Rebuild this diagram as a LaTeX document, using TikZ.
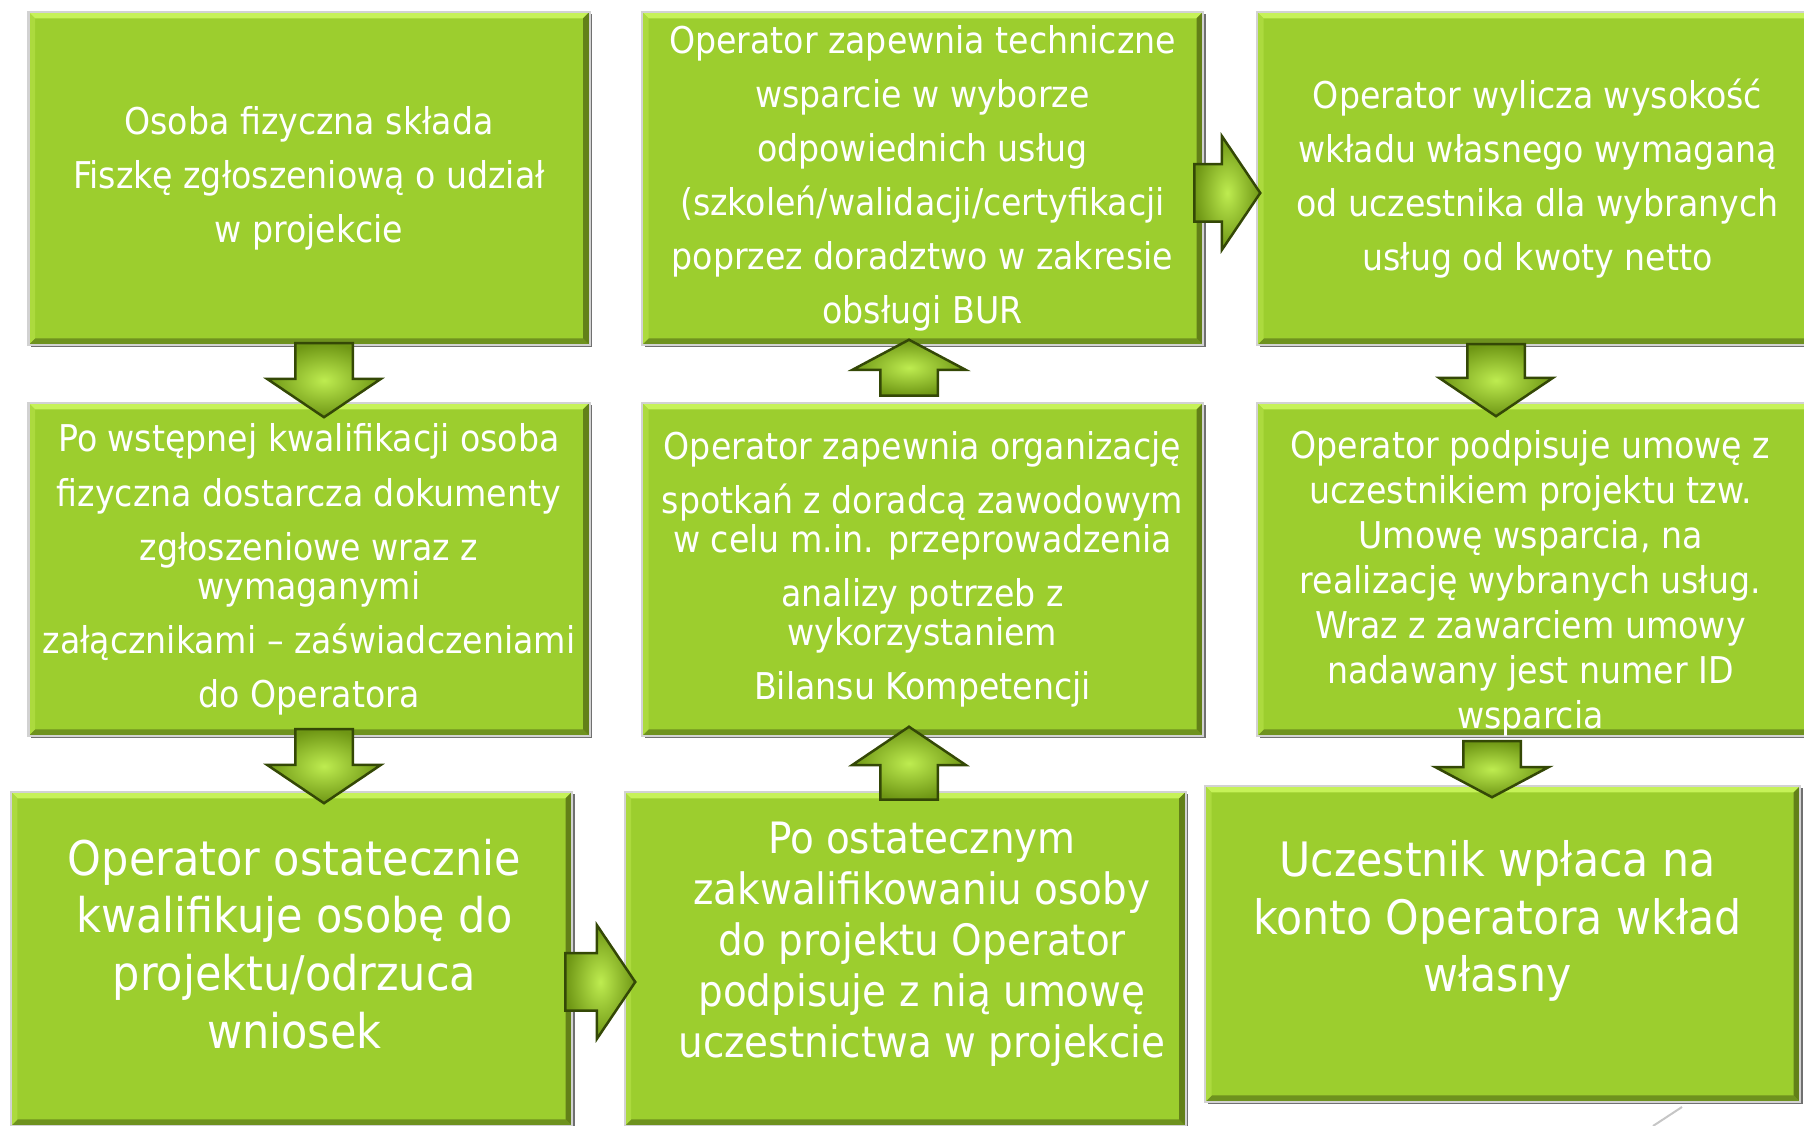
\documentclass[tikz,border=0pt]{standalone}
\usepackage{fontspec}
\setmainfont{DejaVu Sans Condensed}
\usepackage{tikz}
\usetikzlibrary{shapes.arrows,shadows}
\definecolor{boxgreen}{RGB}{156,206,46}
\definecolor{bevtop}{RGB}{198,242,88}
\definecolor{bevleft}{RGB}{172,218,62}
\definecolor{bevbot}{RGB}{110,146,30}
\definecolor{bevright}{RGB}{98,128,24}
\definecolor{arrowline}{RGB}{52,72,6}
\definecolor{arrowlight}{RGB}{190,236,80}
\definecolor{arrowdark}{RGB}{110,150,20}
\newcommand{\bev}{0.065cm}
\newcommand{\boxw}{5.61cm}
\newcommand{\boxh}{3.33cm}
\newcommand{\bevside}[5]{\fill[#1] (path picture bounding box.#2) -- (path picture bounding box.#3) -- ([shift={#5}]path picture bounding box.#3) -- ([shift={#4}]path picture bounding box.#2) -- cycle;}

\begin{document}
\begin{tikzpicture}
	
	\tikzset{
		stepbox/.style={rectangle, fill=boxgreen, draw=gray!35, line width=0.02cm, text=white, align=center,
			minimum width=\boxw, minimum height=\boxh, inner sep=0pt,
			drop shadow={shadow xshift=0.025cm, shadow yshift=-0.025cm, fill=black!70, opacity=0.8},
			path picture={
				\bevside{bevtop}{north west}{north east}{(\bev,-\bev)}{(-\bev,-\bev)}
				\bevside{bevbot}{south west}{south east}{(\bev,\bev)}{(-\bev,\bev)}
				\bevside{bevleft}{north west}{south west}{(\bev,-\bev)}{(\bev,\bev)}
				\bevside{bevright}{north east}{south east}{(-\bev,-\bev)}{(-\bev,\bev)}
			}},
		small/.style={font=\fontsize{10.5}{#1}\selectfont},
		boxtext/.style={text=white, align=center, inner sep=0pt},
		flowarrow/.style={single arrow, draw=arrowline, line width=0.025cm, inner xsep=0pt, inner ysep=0.275cm,
			minimum width=1.11cm, single arrow head extend=0.28cm, single arrow tip angle=112,
			minimum height=0.74cm, inner color=arrowlight, outer color=arrowdark,
			sloped, allow upside down, at start, anchor=tail},
		shortarrow/.style={flowarrow, minimum height=0.56cm, single arrow tip angle=124}
	}
	\useasboundingbox (0,0) rectangle (18.04,11.26);
	\clip (0,0) rectangle (18.04,11.26);
	
	% first column
	\node[stepbox, small=15.4] (a1) at (3.09,9.475) {Osoba fizyczna składa\\Fiszkę zgłoszeniową o udział\\w projekcie};
	\node[stepbox, small=11.1] (a2) at (3.09,5.565) {Po wstępnej kwalifikacji osoba\\[4.3pt]fizyczna dostarcza dokumenty\\[4.3pt]zgłoszeniowe wraz z\\wymaganymi\\[4.3pt]załącznikami – zaświadczeniami\\[4.3pt]do Operatora};
	\node[stepbox, minimum height=3.34cm, label={[boxtext, font=\fontsize{13.6}{16.4}\selectfont, xshift=0.03cm, yshift=0.15cm]center:{Operator ostatecznie\\kwalifikuje osobę do\\projektu/odrzuca\\wniosek}}] (a3) at (2.915,1.67) {};
	
	% second column
	\node[stepbox, small=15.4] (b1) at (9.225,9.475) {Operator zapewnia techniczne\\wsparcie w wyborze\\odpowiednich usług\\(szkoleń/walidacji/certyfikacji\\poprzez doradztwo w zakresie\\obsługi BUR};
	\node[stepbox, small=11.1] (b2) at (9.225,5.565) {Operator zapewnia organizację\\[4.3pt]spotkań z doradcą zawodowym\\w celu m.in. przeprowadzenia\\[4.3pt]analizy potrzeb z\\wykorzystaniem\\[4.3pt]Bilansu Kompetencji};
	\node[stepbox, minimum height=3.34cm, label={[boxtext, font=\fontsize{12.3}{14.5}\selectfont, xshift=0.17cm, yshift=0.15cm]center:{Po ostatecznym\\zakwalifikowaniu osoby\\do projektu Operator\\podpisuje z nią umowę\\uczestnictwa w projekcie}}] (b3) at (9.05,1.67) {};
	
	% third column
	\node[stepbox, small=15.4] (c1) at (15.375,9.475) {Operator wylicza wysokość\\wkładu własnego wymaganą\\od uczestnika dla wybranych\\usług od kwoty netto};
	\node[stepbox, label={[boxtext, small=12.8, xshift=-0.07cm, yshift=-0.14cm]center:{Operator podpisuje umowę z\\uczestnikiem projektu tzw.\\Umowę wsparcia, na\\realizację wybranych usług.\\Wraz z zawarciem umowy\\nadawany jest numer ID\\wsparcia}}] (c2) at (15.375,5.565) {};
	\node[stepbox, minimum width=5.95cm, minimum height=3.16cm, label={[boxtext, font=\fontsize{13.5}{16.4}\selectfont, xshift=-0.05cm, yshift=0.23cm]center:{Uczestnik wpłaca na\\konto Operatora wkład\\własny}}] (c3) at (15.025,1.82) {};
	
	% arrows
	\path ([shift={(0.15cm,0.04cm)}]a1.south) -- ([xshift=0.15cm]a2.north) node[flowarrow] {};
	\path ([shift={(0.15cm,0.09cm)}]a2.south) -- ([xshift=0.15cm]a2.south |- a3.north) node[flowarrow] {};
	\path ([shift={(-0.09cm,-0.23cm)}]a3.east) -- ([yshift=-0.23cm]a3.east -| b3.west) node[flowarrow, minimum height=0.70cm] {};
	\path ([shift={(0.04cm,-0.10cm)}]b3.north) -- ([xshift=0.04cm]b3.north |- b2.south) node[flowarrow, minimum height=0.73cm] {};
	\path ([shift={(-0.135cm,0.05cm)}]b2.north) -- ([xshift=-0.135cm]b1.south) node[shortarrow] {};
	\path ([shift={(-0.11cm,-0.145cm)}]b1.east) -- ([yshift=-0.145cm]c1.west) node[flowarrow, minimum height=0.66cm] {};
	\path ([shift={(-0.415cm,0.03cm)}]c1.south) -- ([xshift=-0.415cm]c2.north) node[flowarrow, minimum height=0.72cm] {};
	\path ([shift={(-0.455cm,-0.03cm)}]c2.south) -- ([xshift=-0.455cm]c2.south |- c3.north) node[shortarrow] {};
	
	\draw[gray!45, line width=0.02cm] (16.53,0) -- (16.82,0.19);
\end{tikzpicture}
\end{document}
